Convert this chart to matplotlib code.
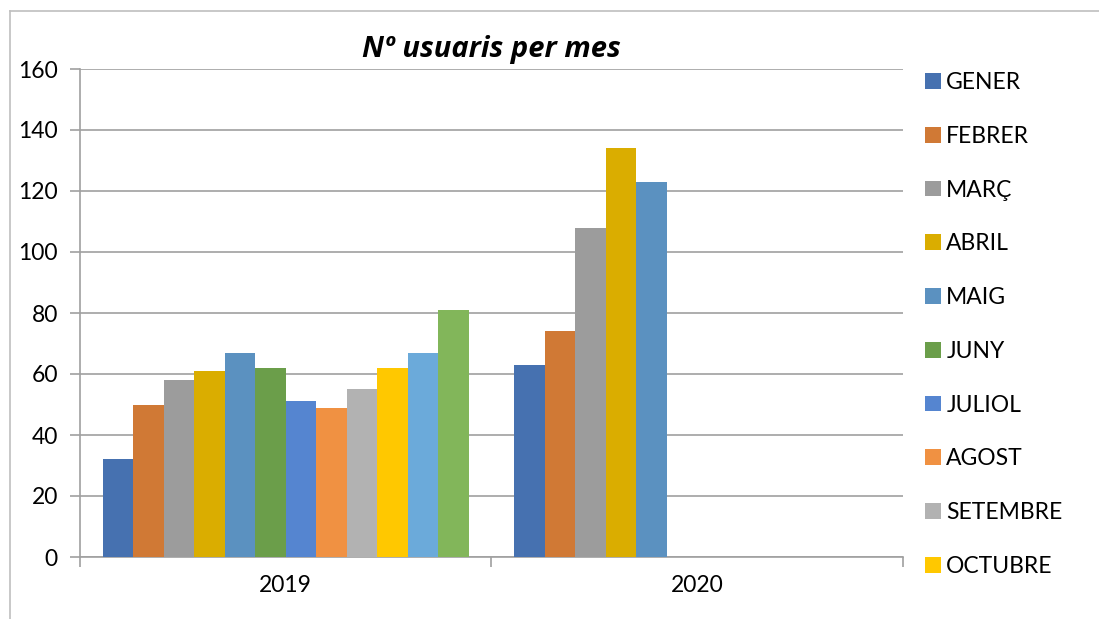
import matplotlib
matplotlib.use("Agg")
import matplotlib.pyplot as plt
from matplotlib.lines import Line2D
from matplotlib.patches import Patch
import numpy as np

years = ["2019", "2020"]
months = ["GENER", "FEBRER", "MARÇ", "ABRIL", "MAIG", "JUNY", "JULIOL",
          "AGOST", "SETEMBRE", "OCTUBRE", "NOVEMBRE", "DESEMBRE"]
values_2019 = [32, 50, 58, 61, 67, 62, 51, 49, 55, 62, 67, 81]
values_2020 = [63, 74, 108, 134, 123, None, None, None, None, None, None, None]
colors = ["#4671B0", "#D07935", "#9C9C9C", "#DAAD00", "#5B91C0", "#6B9E4A",
          "#5585D0", "#F09142", "#B2B2B2", "#FFC800", "#6BAADA", "#82B65A"]
y_ticks = [0, 20, 40, 60, 80, 100, 120, 140, 160]

plt.rcParams['font.family'] = ['Lato', 'DejaVu Sans']
FS = 16.5

fig = plt.figure(figsize=(10.99, 6.19), dpi=100)
ax = fig.add_axes([80/1099, 1-557/619, (903-80)/1099, (557-69)/619])

n = len(months)
gap = 1.5
w = 1.0 / (n + gap)
centers = np.arange(len(years)) + 0.5
for i, m in enumerate(months):
    vals = [values_2019[i], values_2020[i]]
    xs = [c - n * w / 2 + (i + 0.5) * w for c in centers]
    for x, v in zip(xs, vals):
        if v is not None:
            ax.bar(x, v, width=w, color=colors[i], edgecolor='none', zorder=3)

grid_c = "#A0A0A0"
ax.set_xlim(0, len(years))
ax.set_ylim(0, 160)
ax.set_yticks(y_ticks)
ax.set_yticklabels([str(t) for t in y_ticks], fontsize=FS)
ax.yaxis.grid(True, color=grid_c, linewidth=1.2, zorder=0)
ax.set_axisbelow(True)
ax.set_xticks([0, 1, 2])
ax.set_xticklabels([])
ax.set_xticks(centers, minor=True)
ax.set_xticklabels(years, minor=True, fontsize=FS)
ax.tick_params(axis='x', which='minor', length=0, pad=13)
ax.tick_params(axis='x', which='major', length=7, color=grid_c, width=1.2, direction='out')
ax.tick_params(axis='y', length=7, color=grid_c, width=1.2, direction='out', pad=9)
for s in ['top', 'right']:
    ax.spines[s].set_visible(False)
for s in ['left', 'bottom']:
    ax.spines[s].set_color(grid_c)
    ax.spines[s].set_linewidth(1.2)

ax.set_title("Nº usuaris per mes", fontsize=21, fontweight='bold', fontstyle='italic',
             family=['Open Sans', 'DejaVu Sans'], pad=9)

handles = [Patch(facecolor=colors[i], edgecolor='none') for i in range(10)]
fig.legend(handles, months[:10], loc='upper left', bbox_to_anchor=(925/1099, 1-72/619),
           frameon=False, fontsize=FS, handlelength=0.68, handleheight=0.68,
           handletextpad=0.25, labelspacing=1.43, borderaxespad=0, borderpad=0)

border_c = "#BFBFBF"
fig.add_artist(Line2D([10/1099, 10/1099], [0, 1-11/619], transform=fig.transFigure, color=border_c, lw=1.2))
fig.add_artist(Line2D([10/1099, 1], [1-11/619, 1-11/619], transform=fig.transFigure, color=border_c, lw=1.2))

fig.savefig("out.png", dpi=100)
